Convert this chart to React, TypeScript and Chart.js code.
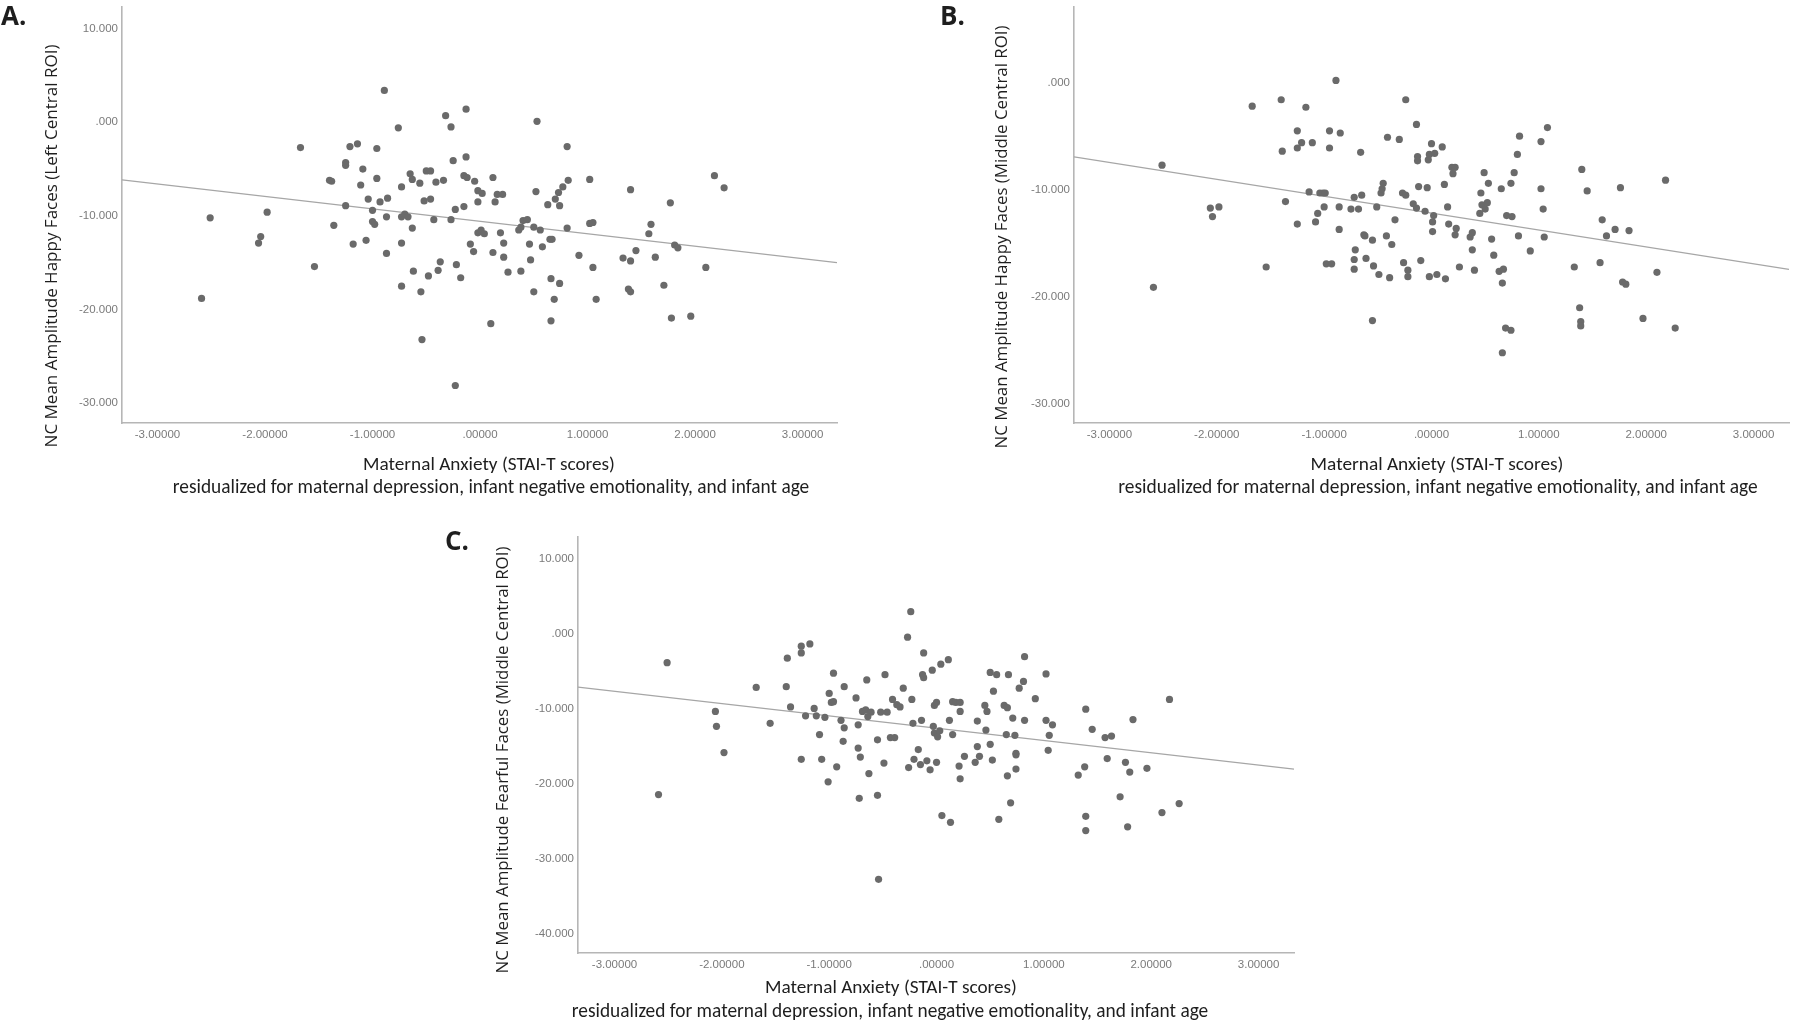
import React, { useEffect, useRef } from 'react';
import { Chart, registerables } from 'chart.js';

Chart.register(...registerables);

// ---------- tick values ----------
const X_TICKS = [-3, -2, -1, 0, 1, 2, 3];
const A_Y_TICKS = [-30, -20, -10, 0, 10];
const B_Y_TICKS = [-30, -20, -10, 0];
const C_Y_TICKS = [-40, -30, -20, -10, 0, 10];

// ---------- texts ----------
const X_TITLE = 'Maternal Anxiety (STAI-T scores)';
const X_SUBTITLE = 'residualized for maternal depression, infant negative emotionality, and infant age';
const A_Y_TITLE = 'NC Mean Amplitude Happy Faces (Left Central ROI)';
const B_Y_TITLE = 'NC Mean Amplitude Happy Faces (Middle Central ROI)';
const C_Y_TITLE = 'NC Mean Amplitude Fearful Faces (Middle Central ROI)';

// ---------- data: [anxiety residual, NC amplitude] ----------
const A_POINTS: [number, number][] = [
  [-2.51, -10.2], [-2.59, -18.8], [-1.98, -9.6], [-2.04, -12.2], [-2.06, -12.9],
  [-1.67, -2.7], [-1.54, -15.4], [-1.40, -6.2], [-1.38, -6.3], [-1.36, -11.0],
  [-1.25, -4.3], [-1.25, -4.6], [-1.21, -2.6], [-1.14, -2.3], [-1.25, -8.9],
  [-1.18, -13.0], [-1.09, -5.0], [-1.11, -6.7], [-1.06, -12.6], [-1.04, -8.2],
  [-1.00, -9.4], [-1.00, -10.6], [-0.98, -10.9], [-0.96, -2.8], [-0.96, -6.0],
  [-0.93, -8.5], [-0.89, 3.4], [-0.86, -8.1], [-0.87, -10.1], [-0.87, -14.0],
  [-0.76, -0.6], [-0.73, -6.9], [-0.73, -10.1], [-0.70, -9.8], [-0.67, -10.1],
  [-0.73, -12.9], [-0.73, -17.5], [-0.65, -5.5], [-0.63, -6.1], [-0.63, -11.3],
  [-0.62, -15.9], [-0.56, -6.5], [-0.52, -8.4], [-0.55, -18.1], [-0.54, -23.2],
  [-0.50, -5.2], [-0.46, -5.2], [-0.46, -8.2], [-0.43, -10.4], [-0.41, -6.4],
  [-0.48, -16.4], [-0.39, -15.8], [-0.37, -14.9], [-0.34, -6.2], [-0.32, 0.7],
  [-0.27, -0.5], [-0.27, -10.4], [-0.25, -4.1], [-0.23, -9.3], [-0.22, -15.2],
  [-0.18, -16.6], [-0.23, -28.1], [-0.15, -9.0], [-0.13, 1.4], [-0.13, -3.7],
  [-0.15, -5.7], [-0.12, -5.9], [-0.09, -13.0], [-0.06, -13.8], [-0.05, -6.3],
  [-0.02, -8.5], [-0.02, -7.3], [-0.02, -11.8], [0.02, -7.6], [0.12, -5.9],
  [0.14, -8.5], [0.16, -7.7], [0.21, -7.7], [0.01, -11.5], [0.04, -11.9],
  [0.12, -13.9], [0.19, -11.8], [0.22, -12.9], [0.22, -14.4], [0.26, -16.0],
  [0.10, -21.5], [0.38, -15.9], [0.36, -11.5], [0.38, -11.2], [0.40, -10.5],
  [0.44, -10.4], [0.46, -13.0], [0.47, -14.7], [0.50, -11.2], [0.50, -18.1],
  [0.52, -7.4], [0.53, 0.1], [0.56, -11.5], [0.58, -13.3], [0.63, -8.8],
  [0.65, -12.5], [0.67, -12.5], [0.66, -16.7], [0.66, -21.2], [0.69, -18.9],
  [0.70, -8.2], [0.73, -7.5], [0.74, -8.9], [0.74, -17.2], [0.77, -6.9],
  [0.81, -2.6], [0.82, -6.2], [0.81, -11.3], [0.92, -14.2], [1.02, -6.1],
  [1.02, -10.8], [1.05, -10.7], [1.05, -15.5], [1.08, -18.9], [1.33, -14.5],
  [1.40, -7.2], [1.40, -14.8], [1.38, -17.8], [1.40, -18.1], [1.45, -13.7],
  [1.57, -11.9], [1.59, -10.9], [1.63, -14.4], [1.71, -17.4], [1.77, -8.6],
  [1.78, -20.9], [1.81, -13.1], [1.84, -13.4], [1.96, -20.7], [2.10, -15.5],
  [2.18, -5.7], [2.27, -7.0],
];

const B_POINTS: [number, number][] = [
  [-2.51, -7.7], [-2.59, -19.1], [-2.06, -11.7], [-1.98, -11.6], [-2.04, -12.5],
  [-1.67, -2.2], [-1.54, -17.2], [-1.40, -1.6], [-1.39, -6.4], [-1.36, -11.1],
  [-1.25, -4.5], [-1.25, -6.1], [-1.21, -5.6], [-1.17, -2.3], [-1.25, -13.2],
  [-1.14, -10.2], [-1.11, -5.6], [-1.08, -13.0], [-1.06, -12.2], [-1.04, -10.3],
  [-1.01, -10.3], [-0.99, -10.3], [-1.00, -11.6], [-0.98, -16.9], [-0.93, -16.9],
  [-0.95, -4.5], [-0.95, -6.1], [-0.89, 0.2], [-0.86, -11.6], [-0.86, -13.7],
  [-0.85, -4.7], [-0.75, -11.8], [-0.68, -11.8], [-0.72, -10.7], [-0.72, -16.5],
  [-0.72, -17.4], [-0.71, -15.6], [-0.66, -6.5], [-0.65, -10.5], [-0.63, -14.2],
  [-0.62, -14.3], [-0.61, -16.4], [-0.55, -14.7], [-0.55, -22.2], [-0.54, -17.1],
  [-0.51, -11.6], [-0.49, -17.9], [-0.47, -10.3], [-0.46, -9.9], [-0.45, -9.4],
  [-0.42, -14.3], [-0.41, -5.1], [-0.39, -18.2], [-0.37, -15.1], [-0.34, -12.8],
  [-0.30, -5.3], [-0.27, -10.3], [-0.24, -10.5], [-0.26, -16.8], [-0.24, -1.6],
  [-0.22, -17.5], [-0.22, -18.1], [-0.17, -11.3], [-0.14, -11.7], [-0.14, -3.9],
  [-0.13, -6.9], [-0.13, -7.3], [-0.12, -9.7], [-0.10, -16.6], [0.0, -5.7],
  [-0.03, -7.2], [-0.02, -6.7], [0.03, -6.6], [0.10, -6.0], [-0.04, -9.8],
  [-0.06, -12.0], [0.02, -12.4], [0.01, -13.0], [0.01, -13.9], [-0.02, -18.1],
  [0.05, -17.9], [0.13, -18.3], [0.12, -9.5], [0.15, -11.6], [0.16, -13.2],
  [0.19, -7.9], [0.22, -7.9], [0.20, -8.5], [0.23, -13.6], [0.22, -14.2],
  [0.26, -17.2], [0.36, -14.4], [0.38, -14.0], [0.38, -15.6], [0.40, -17.5],
  [0.45, -12.2], [0.46, -10.3], [0.47, -11.4], [0.50, -11.8], [0.52, -11.2],
  [0.49, -8.4], [0.53, -9.4], [0.56, -14.6], [0.58, -16.1], [0.65, -9.9],
  [0.74, -9.4], [0.77, -8.4], [0.63, -17.6], [0.67, -17.4], [0.66, -18.7],
  [0.69, -22.9], [0.74, -23.1], [0.66, -25.2], [0.70, -12.4], [0.75, -12.5],
  [0.80, -6.7], [0.82, -5.0], [0.81, -14.3], [0.92, -15.7], [1.02, -5.5],
  [1.02, -9.9], [1.04, -11.8], [1.05, -14.4], [1.08, -4.2], [1.33, -17.2],
  [1.38, -21.0], [1.39, -22.3], [1.39, -22.7], [1.40, -8.1], [1.45, -10.1],
  [1.57, -16.8], [1.59, -12.8], [1.63, -14.3], [1.71, -13.7], [1.76, -9.8],
  [1.78, -18.6], [1.81, -18.8], [1.84, -13.8], [1.97, -22.0], [2.10, -17.7],
  [2.18, -9.1], [2.27, -22.9],
];

const C_POINTS: [number, number][] = [
  [-2.51, -3.8], [-2.59, -21.4], [-2.06, -10.3], [-2.05, -12.3], [-1.98, -15.8],
  [-1.68, -7.1], [-1.55, -11.9], [-1.40, -7.0], [-1.39, -3.2], [-1.36, -9.7],
  [-1.26, -16.7], [-1.26, -1.6], [-1.26, -2.5], [-1.18, -1.3], [-1.22, -10.9],
  [-1.14, -9.9], [-1.12, -10.9], [-1.09, -13.4], [-1.07, -16.7], [-1.04, -11.1],
  [-1.01, -19.7], [-1.00, -7.9], [-0.98, -9.1], [-0.96, -9.0], [-0.96, -5.2],
  [-0.93, -17.7], [-0.89, -11.5], [-0.86, -12.5], [-0.87, -14.3], [-0.86, -7.0],
  [-0.75, -8.5], [-0.73, -12.1], [-0.73, -15.2], [-0.71, -16.4], [-0.72, -21.9],
  [-0.69, -10.3], [-0.66, -10.1], [-0.61, -10.4], [-0.64, -11.0], [-0.65, -6.1],
  [-0.63, -18.6], [-0.55, -14.1], [-0.54, -32.7], [-0.55, -21.5], [-0.52, -10.4],
  [-0.46, -10.4], [-0.49, -17.2], [-0.48, -5.4], [-0.43, -13.8], [-0.39, -13.8],
  [-0.41, -8.7], [-0.37, -9.4], [-0.34, -9.7], [-0.31, -7.2], [-0.27, -0.4],
  [-0.24, 3.0], [-0.26, -17.8], [-0.23, -8.7], [-0.22, -11.9], [-0.21, -16.7],
  [-0.17, -15.4], [-0.15, -17.4], [-0.09, -16.9], [-0.14, -11.5], [-0.13, -5.4],
  [-0.12, -5.8], [-0.12, -2.5], [-0.06, -18.1], [-0.04, -4.8], [-0.03, -12.3],
  [-0.02, -13.2], [0.01, -13.7], [-0.02, -9.5], [0.0, -9.1], [0.0, -17.1],
  [0.04, -4.0], [0.05, -24.2], [0.11, -3.4], [0.03, -12.9], [0.13, -25.1],
  [0.12, -11.5], [0.15, -9.0], [0.18, -9.1], [0.22, -9.1], [0.22, -10.3],
  [0.15, -13.4], [0.26, -16.3], [0.21, -17.6], [0.22, -19.3], [0.38, -11.6],
  [0.38, -15.0], [0.40, -16.3], [0.36, -17.1], [0.45, -9.5], [0.47, -10.3],
  [0.46, -12.8], [0.50, -14.7], [0.52, -16.8], [0.50, -5.1], [0.56, -5.4],
  [0.53, -7.6], [0.58, -24.7], [0.63, -9.5], [0.66, -9.8], [0.67, -5.4],
  [0.65, -13.4], [0.66, -18.9], [0.69, -22.5], [0.71, -11.2], [0.73, -13.5],
  [0.74, -16.1], [0.74, -15.9], [0.74, -18.0], [0.77, -7.2], [0.81, -6.3],
  [0.82, -11.5], [0.82, -3.0], [0.92, -8.6], [1.02, -5.3], [1.02, -11.5],
  [1.08, -12.1], [1.05, -13.5], [1.04, -15.5], [1.32, -18.8], [1.38, -17.7],
  [1.39, -10.0], [1.39, -24.3], [1.39, -26.2], [1.45, -12.7], [1.57, -13.8],
  [1.63, -13.6], [1.59, -16.6], [1.71, -21.7], [1.76, -17.1], [1.78, -25.7],
  [1.80, -18.4], [1.83, -11.4], [1.96, -17.9], [2.10, -23.8], [2.17, -8.7],
  [2.26, -22.6],
];

// fit line end points
const A_FIT: [number, number][] = [[-3.33, -6.16], [3.32, -14.98]];
const B_FIT: [number, number][] = [[-3.33, -6.93], [3.33, -17.42]];
const C_FIT: [number, number][] = [[-3.34, -7.06], [3.33, -18.0]];

// ---------- styling ----------
const POINT_COLOR = '#6a6a6a';
const FIT_COLOR = '#a6a6a6';
const AXIS_COLOR = '#b6b6b6';
const TICK_COLOR = '#7a7a7a';
const TEXT_COLOR = '#1e1e1e';
const Y_AXIS_W = 60;
const X_AXIS_H = 30;

type TextItem = {
  text: string; x: number; y: number; family: string; size: number;
  weight?: string; width?: number; rotate?: number; align?: CanvasTextAlign; baseline?: CanvasTextBaseline;
};

type PanelSpec = {
  key: string;
  points: [number, number][];
  fit: [number, number][];
  yTicks: number[];
  xMin: number; xMax: number; yMin: number; yMax: number;
  box: { left: number; top: number; w: number; h: number };
  area: { left: number; right: number; top: number; bottom: number };
  texts: TextItem[];
};

const LETTER_FONT = "'Open Sans', 'Liberation Sans', sans-serif";
const YT_FONT = "'Open Sans', 'Noto Sans', sans-serif";
const XT_FONT = "Carlito, Lato, 'Open Sans', sans-serif";

const PANELS: PanelSpec[] = [
  {
    key: 'A', points: A_POINTS, fit: A_FIT, yTicks: A_Y_TICKS,
    xMin: -3.33, xMax: 3.32, yMin: -32.1, yMax: 12.3,
    box: { left: 0, top: 0, w: 870, h: 510 },
    area: { left: 122, right: 837, top: 7, bottom: 423 },
    texts: [
      { text: 'A.', x: 1, y: 25, family: LETTER_FONT, size: 26, weight: 'bold', align: 'left', baseline: 'alphabetic' },
      { text: A_Y_TITLE, x: 52, y: 246, family: YT_FONT, size: 16, width: 403, rotate: -Math.PI / 2 },
      { text: X_TITLE, x: 489, y: 465, family: XT_FONT, size: 18, width: 252 },
      { text: X_SUBTITLE, x: 491, y: 488, family: XT_FONT, size: 18, width: 637 },
    ],
  },
  {
    key: 'B', points: B_POINTS, fit: B_FIT, yTicks: B_Y_TICKS,
    xMin: -3.33, xMax: 3.33, yMin: -31.75, yMax: 7.05,
    box: { left: 930, top: 0, w: 870, h: 510 },
    area: { left: 1074, right: 1789, top: 7, bottom: 423 },
    texts: [
      { text: 'B.', x: 940, y: 25, family: LETTER_FONT, size: 26, weight: 'bold', align: 'left', baseline: 'alphabetic' },
      { text: B_Y_TITLE, x: 1002, y: 237, family: YT_FONT, size: 16, width: 423, rotate: -Math.PI / 2 },
      { text: X_TITLE, x: 1437, y: 465, family: XT_FONT, size: 18, width: 253 },
      { text: X_SUBTITLE, x: 1438, y: 488, family: XT_FONT, size: 18, width: 640 },
    ],
  },
  {
    key: 'C', points: C_POINTS, fit: C_FIT, yTicks: C_Y_TICKS,
    xMin: -3.34, xMax: 3.33, yMin: -42.53, yMax: 12.96,
    box: { left: 430, top: 515, w: 880, h: 509 },
    area: { left: 578, right: 1294, top: 537, bottom: 953 },
    texts: [
      { text: 'C.', x: 445, y: 550, family: LETTER_FONT, size: 26, weight: 'bold', align: 'left', baseline: 'alphabetic' },
      { text: C_Y_TITLE, x: 503, y: 760, family: YT_FONT, size: 16, width: 427, rotate: -Math.PI / 2 },
      { text: X_TITLE, x: 891, y: 988, family: XT_FONT, size: 18, width: 252 },
      { text: X_SUBTITLE, x: 890, y: 1012, family: XT_FONT, size: 18, width: 637 },
    ],
  },
];

const fmtX = (v: number) => (v === 0 ? '.00000' : v.toFixed(5));
const fmtY = (v: number) => (v === 0 ? '.000' : v.toFixed(3));

function makeTextPlugin(spec: PanelSpec) {
  return {
    id: 'panelText' + spec.key,
    afterDraw(chart: any) {
      const ctx: CanvasRenderingContext2D = chart.ctx;
      for (const it of spec.texts) {
        ctx.save();
        ctx.translate(it.x - spec.box.left, it.y - spec.box.top);
        if (it.rotate) ctx.rotate(it.rotate);
        const weight = it.weight || 'normal';
        let size = it.size;
        ctx.font = `${weight} ${size}px ${it.family}`;
        if (it.width) {
          const w = ctx.measureText(it.text).width;
          if (w > 0) {
            size = (size * it.width) / w;
            ctx.font = `${weight} ${size}px ${it.family}`;
          }
        }
        ctx.fillStyle = TEXT_COLOR;
        ctx.textAlign = it.align || 'center';
        ctx.textBaseline = it.baseline || 'middle';
        ctx.fillText(it.text, 0, 0);
        ctx.restore();
      }
    },
  };
}

function buildConfig(spec: PanelSpec): any {
  const { box, area } = spec;
  const padding = {
    left: area.left - box.left - Y_AXIS_W,
    right: box.left + box.w - area.right,
    top: area.top - box.top,
    bottom: box.top + box.h - area.bottom - X_AXIS_H,
  };
  const tickFont = { family: "'Liberation Sans', Arial, sans-serif", size: 11.5 };
  return {
    type: 'scatter',
    data: {
      datasets: [
        {
          type: 'scatter',
          label: 'points',
          data: spec.points.map(([x, y]) => ({ x, y })),
          pointRadius: 3.6,
          pointHoverRadius: 3.6,
          pointBackgroundColor: POINT_COLOR,
          pointBorderWidth: 0,
          backgroundColor: POINT_COLOR,
          borderColor: POINT_COLOR,
          order: 0,
        },
        {
          type: 'line',
          label: 'fit',
          data: spec.fit.map(([x, y]) => ({ x, y })),
          borderColor: FIT_COLOR,
          borderWidth: 1.2,
          pointRadius: 0,
          fill: false,
          tension: 0,
          order: 1,
        },
      ],
    },
    options: {
      animation: false,
      responsive: false,
      devicePixelRatio: 1,
      events: [],
      layout: { padding },
      plugins: { legend: { display: false }, tooltip: { enabled: false }, title: { display: false } },
      scales: {
        x: {
          type: 'linear',
          min: spec.xMin,
          max: spec.xMax,
          afterBuildTicks: (s: any) => { s.ticks = X_TICKS.map((v) => ({ value: v })); },
          afterFit: (s: any) => { s.height = X_AXIS_H; s.paddingLeft = 0; s.paddingRight = 0; s.paddingTop = 0; s.paddingBottom = 0; },
          ticks: { callback: (v: number) => fmtX(v), color: TICK_COLOR, font: tickFont, padding: 5, maxRotation: 0, autoSkip: false },
          grid: { display: false, drawTicks: false },
          border: { display: true, color: AXIS_COLOR, width: 1.6 },
        },
        y: {
          type: 'linear',
          min: spec.yMin,
          max: spec.yMax,
          afterBuildTicks: (s: any) => { s.ticks = spec.yTicks.map((v) => ({ value: v })); },
          afterFit: (s: any) => { s.width = Y_AXIS_W; s.paddingLeft = 0; s.paddingRight = 0; s.paddingTop = 0; s.paddingBottom = 0; },
          ticks: { callback: (v: number) => fmtY(v), color: TICK_COLOR, font: tickFont, padding: 4, autoSkip: false },
          grid: { display: false, drawTicks: false },
          border: { display: true, color: AXIS_COLOR, width: 1.6 },
        },
      },
    },
    plugins: [makeTextPlugin(spec)],
  };
}

function Panel({ spec }: { spec: PanelSpec }) {
  const ref = useRef<HTMLCanvasElement | null>(null);
  useEffect(() => {
    if (!ref.current) return;
    const chart = new Chart(ref.current, buildConfig(spec));
    return () => chart.destroy();
  }, [spec]);
  return (
    <canvas
      ref={ref}
      width={spec.box.w}
      height={spec.box.h}
      style={{ position: 'absolute', left: spec.box.left, top: spec.box.top, width: spec.box.w, height: spec.box.h }}
    />
  );
}

export default function App() {
  return (
    <div style={{ position: 'absolute', left: 0, top: 0, width: 1800, height: 1024, background: '#ffffff', overflow: 'hidden' }}>
      {PANELS.map((p) => (
        <Panel key={p.key} spec={p} />
      ))}
    </div>
  );
}
